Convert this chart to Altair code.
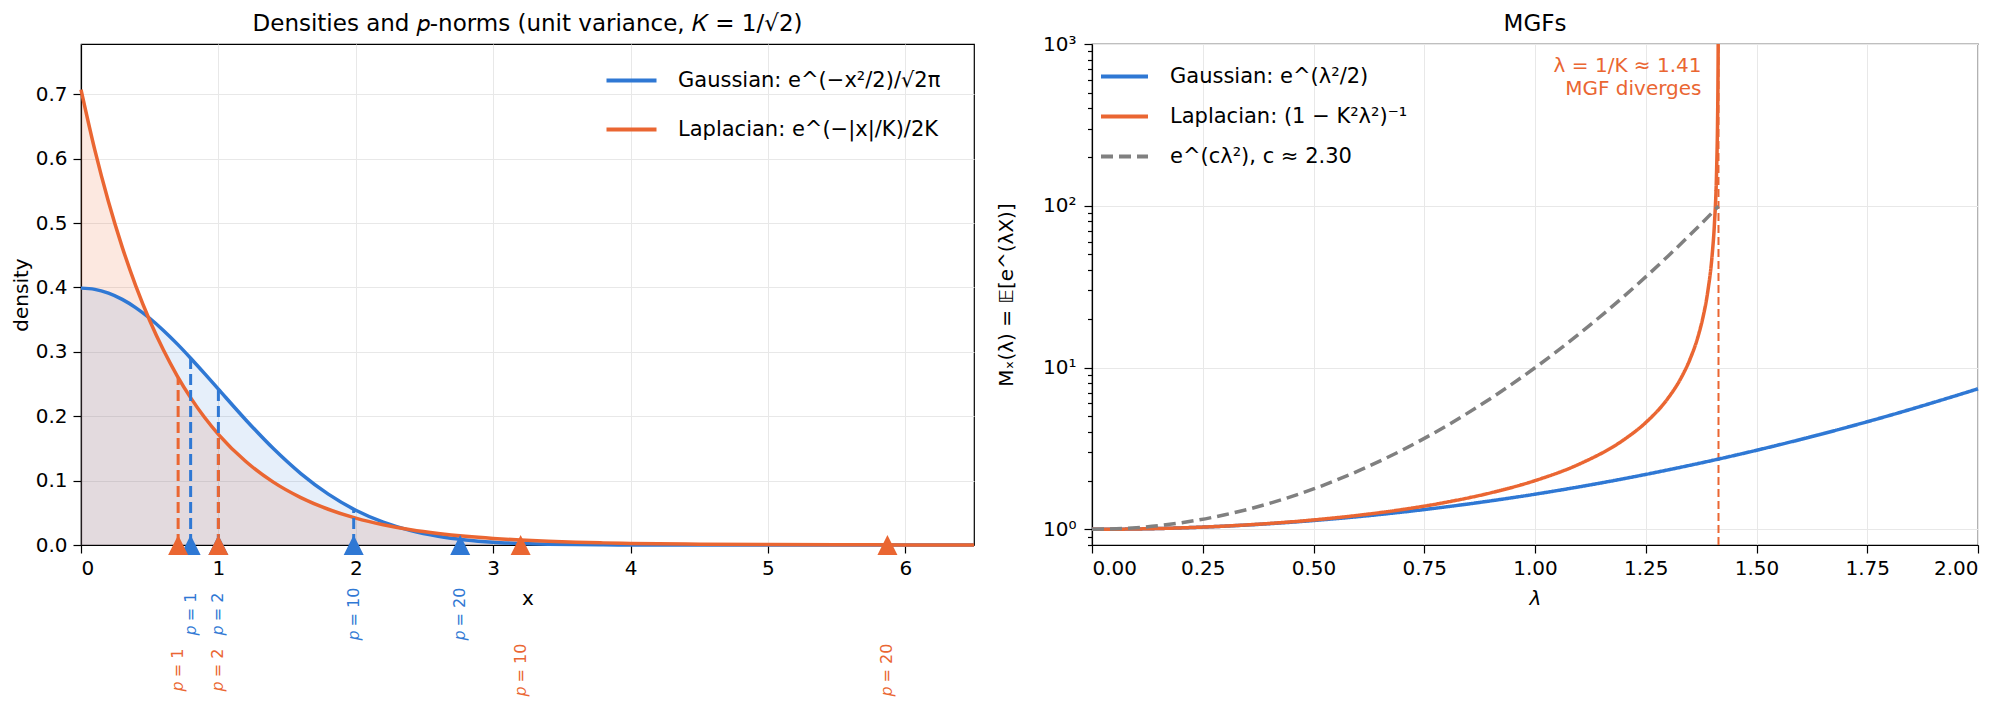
import altair as alt
import pandas as pd

BLUE = "#2f78d4"
ORANGE = "#ea6632"
GRAY = "#808080"
FONT = "DejaVu Sans"

# ---------------- left panel data ----------------
x_grid = [0.0, 0.1, 0.2, 0.3, 0.4, 0.5, 0.6, 0.7, 0.8, 0.9, 1.0,
          1.2, 1.4, 1.6, 1.8, 2.0, 2.2, 2.4, 2.6, 2.8, 3.0, 3.2, 3.4, 3.6, 3.8, 4.0,
          4.5, 5.0, 5.5, 6.0, 6.5]
gauss_density = [0.3989, 0.3970, 0.3910, 0.3814, 0.3683, 0.3521, 0.3332, 0.3123, 0.2897, 0.2661, 0.2420,
                 0.1942, 0.1497, 0.1109, 0.0790, 0.0540, 0.0355, 0.0224, 0.0136, 0.0079, 0.0044,
                 0.0024, 0.0012, 0.0006, 0.0003, 0.0001, 0.0000, 0.0000, 0.0000, 0.0000, 0.0000]
laplace_density = [0.7071, 0.6139, 0.5329, 0.4626, 0.4017, 0.3487, 0.3027, 0.2628, 0.2281, 0.1980, 0.1719,
                   0.1296, 0.0976, 0.0736, 0.0555, 0.0418, 0.0315, 0.0237, 0.0179, 0.0135, 0.0102,
                   0.0077, 0.0058, 0.0043, 0.0033, 0.0025, 0.0012, 0.0006, 0.0003, 0.00015, 0.00007]

p_labels = ["𝑝 = 1", "𝑝 = 2", "𝑝 = 10", "𝑝 = 20"]
gauss_norms = [0.798, 1.000, 1.985, 2.760]
gauss_norm_heights = [0.290, 0.242, 0.056, 0.009]
laplace_norms = [0.707, 1.000, 3.200, 5.870]
laplace_norm_heights = [0.260, 0.172, 0.0077, 0.0002]

G_LAB = "Gaussian:  e^(−x²/2)/√2π"
L_LAB = "Laplacian:  e^(−|x|/K)/2K"
LEFT_TITLE = "Densities and 𝑝-norms (unit variance, 𝐾 = 1/√2)"

# ---------------- right panel data ----------------
lam_gauss = [0.0, 0.1, 0.2, 0.3, 0.4, 0.5, 0.6, 0.7, 0.8, 0.9, 1.0,
             1.1, 1.2, 1.3, 1.4, 1.5, 1.6, 1.7, 1.8, 1.9, 2.0]
mgf_gauss = [1.0, 1.005, 1.0202, 1.046, 1.0833, 1.1331, 1.1972, 1.2776, 1.3771, 1.4993, 1.6487,
             1.8312, 2.0544, 2.3292, 2.6645, 3.0802, 3.5966, 4.2412, 5.0531, 6.0872, 7.3891]
lam_lap = [0.0, 0.1, 0.2, 0.3, 0.4, 0.5, 0.6, 0.7, 0.8, 0.9, 1.0, 1.1, 1.2, 1.25, 1.3, 1.33,
           1.35, 1.37, 1.38, 1.39, 1.40, 1.405, 1.41, 1.412, 1.413, 1.4135, 1.414]
mgf_lap = [1.0, 1.005, 1.0204, 1.0471, 1.087, 1.1429, 1.2195, 1.3245, 1.4706, 1.6807, 2.0, 2.5316,
           3.5714, 4.5714, 6.4516, 8.654, 11.27, 16.25, 20.92, 29.46, 50.0, 77.0, 168.1, 319.7,
           582.9, 990.0, 3311.0]
lam_bound = [0.0, 0.1, 0.2, 0.3, 0.4, 0.5, 0.6, 0.7, 0.8, 0.9, 1.0, 1.1, 1.2, 1.3, 1.4, 1.4142]
mgf_bound = [1.0, 1.0233, 1.0964, 1.23, 1.4448, 1.7771, 2.2887, 3.0864, 4.358, 6.4425, 9.974,
             16.17, 27.44, 48.76, 90.7, 99.5]
lam_diverge = [1.41421]

G2 = "Gaussian:  e^(λ²/2)"
L2 = "Laplacian:  (1 − K²λ²)⁻¹"
B2 = "e^(cλ²),  c ≈ 2.30"
annotation = ["λ = 1/K ≈ 1.41", "MGF diverges"]
RIGHT_TITLE = "MGFs"

H = 501
WL = 893
WR = 886

TRI = "M0,-1L1,1L-1,1Z"
LEG_LINE = "M-5,0H5"      # a 50 px wide line when symbolSize = 100
LEG_LINE_R = "M-4.7,0H4.7"

# ---------------- left panel ----------------
xs = alt.Scale(domain=[0, 6.5], nice=False, zero=False)
ys = alt.Scale(domain=[0, 0.778], nice=False)

g_df = pd.DataFrame({"x": x_grid, "y": gauss_density, "series": G_LAB})
l_df = pd.DataFrame({"x": x_grid, "y": laplace_density, "series": L_LAB})
gn_df = pd.DataFrame({"x": gauss_norms, "top": gauss_norm_heights, "label": p_labels})
ln_df = pd.DataFrame({"x": laplace_norms, "top": laplace_norm_heights, "label": p_labels})

x_axis = alt.Axis(values=[0, 1, 2, 3, 4, 5, 6], format="d", title="x",
                  titlePadding=10, labelPadding=5)
y_axis = alt.Axis(values=[0, 0.1, 0.2, 0.3, 0.4, 0.5, 0.6, 0.7], format=".1f",
                  title="density", titlePadding=4, labelPadding=6)

X = alt.X("x:Q", scale=xs, axis=x_axis)
Y = alt.Y("y:Q", scale=ys, axis=y_axis)

left_color = alt.Scale(domain=[G_LAB, L_LAB], range=[BLUE, ORANGE])
left_legend = alt.Legend(orient="top-right", offset=26, title=None,
                         symbolType=LEG_LINE, symbolSize=100, symbolStrokeWidth=4,
                         labelFontSize=21, labelOffset=36, rowPadding=27, padding=0,
                         labelFont=FONT, labelColor="black", labelLimit=600)

area_l = alt.Chart(l_df).mark_area(color=ORANGE, opacity=0.15, interpolate="monotone").encode(x=X, y=Y)
area_g = alt.Chart(g_df).mark_area(color=BLUE, opacity=0.12, interpolate="monotone").encode(x=X, y=Y)
line_g = alt.Chart(g_df).mark_line(strokeWidth=3.5, interpolate="monotone").encode(
    x=X, y=Y, color=alt.Color("series:N", scale=left_color, legend=left_legend))
line_l = alt.Chart(l_df).mark_line(strokeWidth=3.5, interpolate="monotone").encode(
    x=X, y=Y, color=alt.Color("series:N", scale=left_color, legend=left_legend))


def norm_layers(df, color):
    base = alt.Chart(df).transform_calculate(y="0")
    rule = base.mark_rule(color=color, strokeWidth=3, strokeDash=[11, 5]).encode(
        x=X, y=Y, y2="top:Q")
    tri = base.mark_point(shape=TRI, filled=True, size=400, color=color, opacity=1).encode(
        x=X, y=Y)
    return rule, tri


rule_g, tri_g = norm_layers(gn_df, BLUE)
rule_l, tri_l = norm_layers(ln_df, ORANGE)

lab_g = alt.Chart(gn_df).mark_text(angle=270, fontSize=16, color=BLUE, font=FONT,
                                   align="center", baseline="middle").encode(
    x=X, y=alt.value(H + 69), text="label:N")
lab_l = alt.Chart(ln_df).mark_text(angle=270, fontSize=16, color=ORANGE, font=FONT,
                                   align="center", baseline="middle").encode(
    x=X, y=alt.value(H + 125), text="label:N")

title_l = alt.Chart(pd.DataFrame({"t": [LEFT_TITLE]})).mark_text(
    fontSize=23, font=FONT, color="black", align="center", baseline="bottom").encode(
    x=alt.value(WL / 2), y=alt.value(-8), text="t:N")

left = alt.layer(area_l, area_g, line_g, line_l, rule_g, rule_l, tri_g, tri_l,
                 lab_g, lab_l, title_l).properties(width=WL, height=H)

# ---------------- right panel ----------------
lam_s = alt.Scale(domain=[0, 2], nice=False, zero=False)
mgf_s = alt.Scale(type="log", domain=[0.8, 1000], nice=False)

x_axis_r = alt.Axis(values=[0, 0.25, 0.5, 0.75, 1.0, 1.25, 1.5, 1.75, 2.0], format=".2f",
                    title="λ", titleFontStyle="italic", titlePadding=10, labelPadding=5)
LX = alt.X("lam:Q", scale=lam_s, axis=x_axis_r)

right_color = alt.Scale(domain=[G2, L2, B2], range=[BLUE, ORANGE, GRAY])
right_dash = alt.Scale(domain=[G2, L2, B2], range=[[1, 0], [1, 0], [12, 6]])
right_legend = alt.Legend(orient="top-left", offset=22, title=None,
                          symbolType=LEG_LINE_R, symbolSize=100, symbolStrokeWidth=4,
                          labelFontSize=21, labelOffset=35, rowPadding=18, padding=0,
                          labelFont=FONT, labelColor="black", labelLimit=600)

mg_df = pd.DataFrame({"lam": lam_gauss, "m": mgf_gauss, "series": G2})
ml_df = pd.DataFrame({"lam": lam_lap, "m": mgf_lap, "series": L2})
mb_df = pd.DataFrame({"lam": lam_bound, "m": mgf_bound, "series": B2})
dv_df = pd.DataFrame({"lam": lam_diverge})

major_y = alt.Axis(values=[1, 10, 100, 1000], orient="left",
                   labelExpr="datum.value == 1 ? '10⁰' : datum.value == 10 ? '10¹' : datum.value == 100 ? '10²' : '10³'",
                   title="Mₓ(λ) = 𝔼[e^(λX)]", titlePadding=26, labelPadding=8, grid=True)
minor_y = alt.Axis(values=[0.8, 0.9, 2, 3, 4, 5, 6, 7, 8, 9, 20, 30, 40, 50, 60, 70, 80, 90,
                           200, 300, 400, 500, 600, 700, 800, 900],
                   orient="left", labels=False, grid=False, domain=False, tickSize=4.5,
                   title=None)


def mgf_line(df, clip=False, axis_y=None):
    return alt.Chart(df).mark_line(strokeWidth=3.5, interpolate="monotone", clip=clip).encode(
        x=LX,
        y=alt.Y("m:Q", scale=mgf_s, axis=axis_y),
        color=alt.Color("series:N", scale=right_color, legend=right_legend),
        strokeDash=alt.StrokeDash("series:N", scale=right_dash, legend=right_legend))


r_gauss = mgf_line(mg_df, axis_y=major_y)
r_lap = mgf_line(ml_df, clip=True)
r_bound = mgf_line(mb_df)

r_rule = alt.Chart(dv_df).transform_calculate(lo="0.8", hi="1000").mark_rule(
    color=ORANGE, strokeWidth=2, strokeDash=[8, 4]).encode(
    x=LX, y=alt.Y("lo:Q", scale=mgf_s, axis=minor_y), y2="hi:Q")
r_text = alt.Chart(dv_df).mark_text(align="right", baseline="top", dx=-17, fontSize=20,
                                    color=ORANGE, font=FONT, lineHeight=23,
                                    text=annotation).encode(x=LX, y=alt.value(12))
title_r = alt.Chart(pd.DataFrame({"t": [RIGHT_TITLE]})).mark_text(
    fontSize=23, font=FONT, color="black", align="center", baseline="bottom").encode(
    x=alt.value(WR / 2), y=alt.value(-8), text="t:N")

right = alt.layer(r_rule, r_gauss, r_lap, r_bound, r_text, title_r).resolve_axis(
    y="independent").properties(width=WR, height=H)

chart = alt.hconcat(left, right, spacing=13).resolve_scale(
    color="independent", strokeDash="independent"
).resolve_legend(color="independent", strokeDash="independent").properties(
    padding={"left": 2, "right": 0, "top": 4, "bottom": 0}
).configure_view(stroke="black", strokeWidth=1.2).configure_axis(
    labelFont=FONT, titleFont=FONT, labelFontSize=20, titleFontSize=20,
    titleFontWeight="normal", labelColor="black", titleColor="black",
    tickColor="black", domainColor="black", tickSize=8, tickWidth=1.2,
    domainWidth=1.2, gridColor="#e8e8e8", gridWidth=1
)

chart.save("out.html", embed_options={"renderer": "svg", "actions": False})
